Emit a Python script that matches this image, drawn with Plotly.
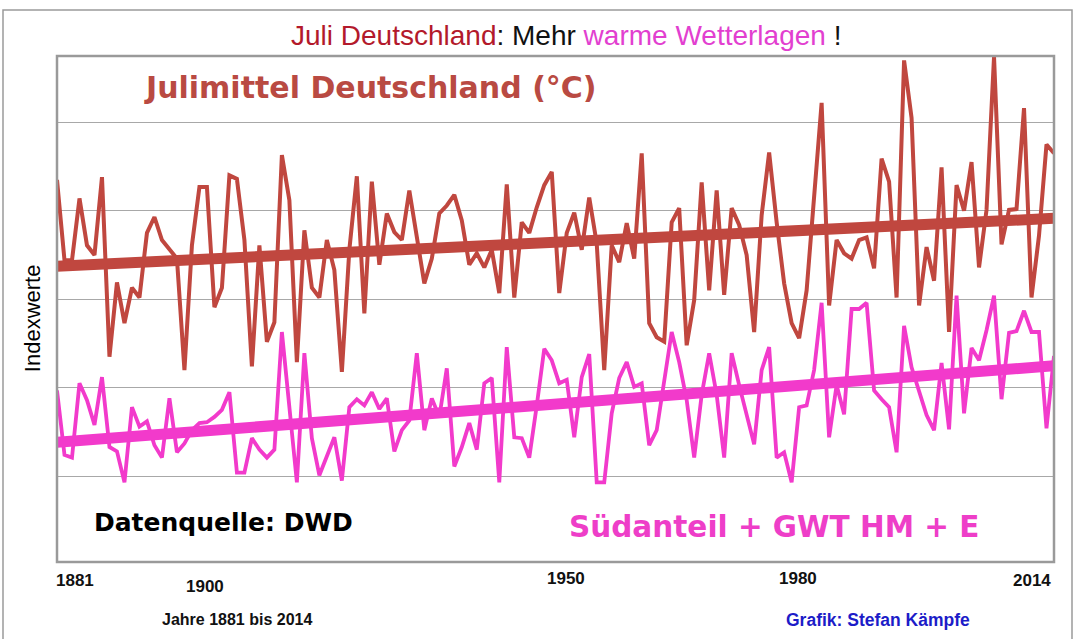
import numpy as np
import plotly.graph_objects as go

# Years 1881..2014
years = list(range(1881, 2015))

# Julimittel Deutschland (index units)
julimittel = [
    43.2, 34.1, 34.1, 41.1, 35.8, 34.7, 43.5, 23.2, 31.6, 27.0,
    31.0, 29.9, 37.2, 39.0, 36.4, 35.3, 34.3, 21.7, 35.8, 42.4,
    42.4, 28.8, 31.0, 43.7, 43.3, 36.4, 22.1, 35.8, 24.9, 27.1,
    46.0, 40.9, 22.6, 37.5, 31.0, 29.9, 36.4, 33.0, 21.5, 35.3,
    43.6, 28.1, 43.0, 33.6, 39.4, 37.3, 36.4, 42.0, 36.7, 31.5,
    34.3, 39.4, 40.3, 41.5, 38.6, 33.6, 34.9, 33.3, 35.3, 30.4,
    42.7, 29.9, 38.4, 37.2, 40.1, 42.6, 44.1, 30.4, 37.2, 39.5,
    35.3, 41.2, 36.0, 21.7, 35.8, 33.9, 38.3, 34.3, 46.2, 27.0,
    25.4, 24.9, 38.4, 40.0, 24.5, 29.6, 42.9, 30.7, 42.0, 30.2,
    40.0, 38.1, 34.7, 26.0, 39.2, 46.3, 38.4, 31.5, 27.0, 25.3,
    30.7, 40.9, 51.9, 29.0, 36.4, 34.9, 34.3, 36.4, 36.7, 33.2,
    45.6, 43.0, 29.9, 56.7, 50.2, 29.0, 35.6, 31.8, 44.6, 26.0,
    42.6, 39.7, 45.2, 33.3, 39.8, 57.1, 35.9, 39.8, 39.9, 51.3,
    29.9, 36.9, 47.2, 46.2,
]

# Suedanteil + GWT HM + E (index units)
suedanteil = [
    19.4, 12.1, 11.8, 20.2, 18.3, 15.5, 20.9, 13.0, 12.5, 9.0,
    17.5, 15.3, 15.9, 13.2, 11.8, 18.5, 12.4, 13.4, 14.9, 15.7,
    15.8, 16.4, 17.2, 19.2, 10.1, 10.1, 14.0, 12.7, 11.8, 12.7,
    26.0, 17.5, 9.0, 23.6, 14.0, 9.8, 12.1, 14.1, 9.2, 17.5,
    18.4, 17.7, 19.2, 17.3, 18.5, 12.5, 14.9, 16.0, 23.6, 14.9,
    18.5, 16.4, 21.9, 10.8, 13.0, 15.7, 12.7, 20.2, 20.8, 9.0,
    24.3, 14.1, 14.0, 11.8, 17.7, 24.1, 22.8, 20.2, 20.6, 14.1,
    20.9, 23.5, 9.0, 9.0, 16.8, 20.8, 22.6, 19.8, 20.2, 13.2,
    14.9, 20.2, 26.0, 22.6, 18.3, 11.8, 18.9, 23.6, 18.9, 11.8,
    23.6, 20.0, 16.8, 13.3, 21.7, 24.3, 11.8, 12.4, 9.0, 17.5,
    17.7, 21.7, 29.3, 14.1, 20.0, 16.7, 28.6, 28.6, 29.3, 19.4,
    18.4, 17.5, 12.4, 26.7, 22.0, 19.2, 16.6, 14.9, 22.5, 15.0,
    30.1, 16.8, 24.2, 22.8, 26.2, 30.1, 18.4, 25.9, 26.1, 28.4,
    26.0, 26.0, 15.1, 23.3,
]

tick_years = [1881, 1900, 1950, 1980, 2014]

RED = "#c0473f"
PINK = "#f23acb"

x = np.array(years, dtype=float)
red_fit = np.polyval(np.polyfit(x, np.array(julimittel), 1), x)
pink_fit = np.polyval(np.polyfit(x, np.array(suedanteil), 1), x)

fig = go.Figure()
fig.add_trace(go.Scatter(x=years, y=julimittel, mode="lines",
                         line=dict(color=RED, width=4), showlegend=False))
fig.add_trace(go.Scatter(x=years, y=red_fit, mode="lines",
                         line=dict(color=RED, width=11), showlegend=False))
fig.add_trace(go.Scatter(x=years, y=suedanteil, mode="lines",
                         line=dict(color=PINK, width=3.8), showlegend=False))
fig.add_trace(go.Scatter(x=years, y=pink_fit, mode="lines",
                         line=dict(color=PINK, width=11), showlegend=False))

SANS = "Liberation Sans, Arial, sans-serif"
WIDE = "DejaVu Sans, Verdana, sans-serif"

ann = []
ann.append(dict(xref="paper", yref="paper", x=0.5105, y=1.0415,
                text='<span style="color:#b3192b">Juli Deutschland</span>: Mehr '
                     '<span style="color:#e23fd0">warme Wetterlagen</span> !',
                showarrow=False, font=dict(family=SANS, size=28, color="#111111"),
                xanchor="center", yanchor="middle"))
ann.append(dict(xref="paper", yref="paper", x=0.314, y=0.937,
                text="<b>Julimittel Deutschland (°C)</b>", showarrow=False,
                font=dict(family=WIDE, size=30, color="#b94a42"),
                xanchor="center", yanchor="middle"))
ann.append(dict(xref="paper", yref="paper", x=0.1675, y=0.079,
                text="<b>Datenquelle: DWD</b>", showarrow=False,
                font=dict(family=WIDE, size=25, color="#000000"),
                xanchor="center", yanchor="middle"))
ann.append(dict(xref="paper", yref="paper", x=0.719, y=0.069,
                text="<b>Südanteil + GWT HM + E</b>", showarrow=False,
                font=dict(family=WIDE, size=29.5, color="#ee3ec8"),
                xanchor="center", yanchor="middle"))
ann.append(dict(xref="paper", yref="paper", x=-0.025, y=0.482,
                text="Indexwerte", showarrow=False, textangle=-90,
                font=dict(family=SANS, size=22, color="#000000"),
                xanchor="center", yanchor="middle"))
ann.append(dict(xref="paper", yref="paper", x=0.1805, y=-0.1146,
                text="<b>Jahre 1881 bis 2014</b>", showarrow=False,
                font=dict(family=SANS, size=16, color="#111111"),
                xanchor="center", yanchor="middle"))
ann.append(dict(xref="paper", yref="paper", x=0.8235, y=-0.1146,
                text="<b>Grafik: Stefan Kämpfe</b>", showarrow=False,
                font=dict(family=SANS, size=17.5, color="#1c1cc8"),
                xanchor="center", yanchor="middle"))

tick_shift = [18, 6, -8, -1, -22]
tick_y = [-0.0356, -0.049, -0.032, -0.032, -0.0356]
for yr, sh, ty in zip(tick_years, tick_shift, tick_y):
    ann.append(dict(xref="x", yref="paper", x=yr, y=ty, xshift=sh,
                    text=f"<b>{yr}</b>", showarrow=False,
                    font=dict(family=SANS, size=17, color="#111111"),
                    xanchor="center", yanchor="middle"))

shapes = [
    # outer frame
    dict(type="rect", xref="paper", yref="paper",
         x0=(3 - 57) / 997, x1=(1072 - 57) / 997,
         y0=(562 - 660) / 506, y1=(562 - 10) / 506,
         line=dict(color="#9a9a9a", width=1.5), fillcolor="rgba(0,0,0,0)", layer="below"),
    # plot frame
    dict(type="rect", xref="paper", yref="paper", x0=0, x1=1, y0=0, y1=1,
         line=dict(color="#9a9a9a", width=2.5), fillcolor="rgba(0,0,0,0)", layer="above"),
]

fig.update_layout(
    width=1076, height=639,
    margin=dict(l=57, r=22, t=56, b=77),
    paper_bgcolor="white", plot_bgcolor="white",
    showlegend=False,
    annotations=ann, shapes=shapes,
    xaxis=dict(range=[1881, 2014], showgrid=False, showticklabels=False,
               zeroline=False, showline=False, ticks=""),
    yaxis=dict(range=[0, 57.2], showgrid=True, gridcolor="#a8a8a8", gridwidth=1.2,
               tick0=9.7, dtick=10, showticklabels=False, zeroline=False,
               showline=False, ticks=""),
)

fig.write_html("out.html", config={"displayModeBar": False},
               post_script="document.body.style.margin='0';document.body.style.overflow='hidden';")
